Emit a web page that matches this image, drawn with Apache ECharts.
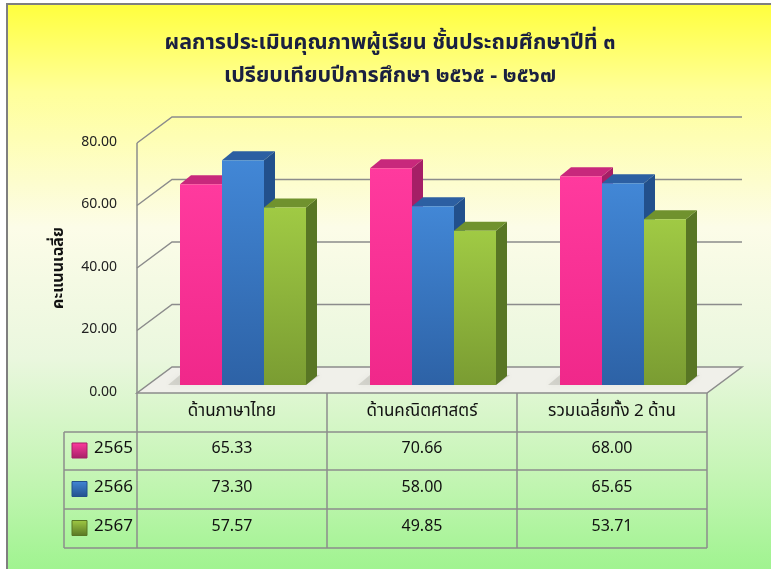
<!DOCTYPE html>
<html>
<head>
<meta charset="utf-8">
<script src="https://cdn.jsdelivr.net/npm/echarts@6/dist/echarts.min.js"></script>
<style>
html, body { margin: 0; padding: 0; background: #fff; }
#main { width: 771px; height: 569px; }
</style>
</head>
<body>
<div id="main"></div>
<script>
// ข้อมูล
var categories = ['ด้านภาษาไทย', 'ด้านคณิตศาสตร์', 'รวมเฉลี่ยทั้ง 2 ด้าน'];
var years = ['2565', '2566', '2567'];
var s2565 = [65.33, 70.66, 68.00];
var s2566 = [73.30, 58.00, 65.65];
var s2567 = [57.57, 49.85, 53.71];
var yTicks = [0, 20, 40, 60, 80];
var titleLines = ['ผลการประเมินคุณภาพผู้เรียน ชั้นประถมศึกษาปีที่ ๓', 'เปรียบเทียบปีการศึกษา ๒๕๖๕ - ๒๕๖๗'];
var yName = 'คะแนนเฉลี่ย';

var FONT = 'Tahoma, "Noto Sans Thai", "Noto Sans", "DejaVu Sans", sans-serif';
var seriesData = [s2565, s2566, s2567];
var colors = [
    {front: ['#FF3A9E', '#F0288A'], top: '#C8287C', side: '#A51F66'},
    {front: ['#4287D6', '#2D62A6'], top: '#2C5FA2', side: '#22508C'},
    {front: ['#A0CA44', '#7A9C32'], top: '#70922E', side: '#587624'}
];

// 3D กรอบ
var WDX = 35, WDY = -26;   // ความลึกของผนัง
var BDX = 11, BDY = -9;    // ความลึกของแท่ง
var BW = 42;

function renderGrid(params, api) {
    var cs = params.coordSys;
    var y = api.coord([0, api.value(0)])[1];
    var x0 = cs.x, x1 = cs.x + cs.width;
    var children = [];
    if (api.value(0) === 0) {
        children.push({
            type: 'polygon',
            shape: {points: [[x0, y], [x1, y], [x1 + WDX, y + WDY], [x0 + WDX, y + WDY]]},
            style: {fill: '#F0F0EA', stroke: '#8C8C8C', lineWidth: 1.5}
        });
        var yTop = api.coord([0, 80])[1];
        children.push({
            type: 'line',
            shape: {x1: x0, y1: yTop, x2: x0, y2: y},
            style: {stroke: '#8C8C8C', lineWidth: 1.5}
        });
    } else {
        children.push({
            type: 'polyline',
            shape: {points: [[x0, y], [x0 + WDX, y + WDY], [x1 + WDX, y + WDY]]},
            style: {stroke: '#8C8C8C', lineWidth: 1.5, fill: null}
        });
    }
    return {type: 'group', children: children};
}

function makeBarRenderer(idx) {
    var c = colors[idx];
    var off = (idx - 1.5) * BW;
    return function (params, api) {
        var p = api.coord([api.value(0), api.value(1)]);
        var b = api.coord([api.value(0), 0]);
        var x = p[0] + off, y = p[1], yb = b[1] + 4;
        var kids = [];
        if (idx === 0) {
            // เงาบนพื้น
            kids.push({
                type: 'polygon',
                shape: {points: [[x - 12, yb], [x + BW * 3, yb], [x + BW * 3 + 14, yb - 10], [x, yb - 10]]},
                style: {fill: 'rgba(120,120,110,0.22)', shadowBlur: 6, shadowColor: 'rgba(120,120,110,0.4)'}
            });
        }
        kids.push(
            {
                type: 'polygon',
                shape: {points: [[x + BW, y], [x + BW + BDX, y + BDY], [x + BW + BDX, yb + BDY], [x + BW, yb]]},
                style: {fill: c.side}
            },
            {
                type: 'polygon',
                shape: {points: [[x, y], [x + BDX, y + BDY], [x + BW + BDX, y + BDY], [x + BW, y]]},
                style: {fill: c.top}
            },
            {
                type: 'rect',
                shape: {x: x, y: y, width: BW, height: yb - y},
                style: {
                    fill: new echarts.graphic.LinearGradient(0, 0, 0, 1, [
                        {offset: 0, color: c.front[0]}, {offset: 1, color: c.front[1]}
                    ])
                }
            }
        );
        return {type: 'group', children: kids};
    };
}

// ตาราง
var TL = 137, TCW = 190, TKEY = 64;
var rowY = [393, 432, 470, 509, 548];
var graphics = [];
graphics.push({
    type: 'rect', z: -100,
    shape: {x: 7, y: 4, width: 790, height: 590},
    style: {
        fill: new echarts.graphic.LinearGradient(0, 0, 0, 1, [
            {offset: 0, color: '#FFFF3C'},
            {offset: 0.15, color: '#FFFF9A'},
            {offset: 0.38, color: '#FCFCE8'},
            {offset: 0.6, color: '#EAF7DE'},
            {offset: 0.8, color: '#C4F5B4'},
            {offset: 1, color: '#96F386'}
        ]),
        stroke: '#7F7F7F', lineWidth: 2
    }
});
titleLines.forEach(function (t, i) {
    graphics.push({
        type: 'text', x: 390, y: 45 + i * 33,
        style: {text: t, font: 'bold 21.5px ' + FONT, fill: '#1A2040', align: 'center', verticalAlign: 'middle'}
    });
});
var lineStyle = {stroke: '#8C8C8C', lineWidth: 1.5};
for (var r = 1; r < rowY.length; r++) {
    graphics.push({type: 'line', shape: {x1: TKEY, y1: rowY[r], x2: TL + TCW * 3, y2: rowY[r]}, style: lineStyle});
}
for (var c = 0; c <= 3; c++) {
    graphics.push({type: 'line', shape: {x1: TL + TCW * c, y1: rowY[0], x2: TL + TCW * c, y2: rowY[4]}, style: lineStyle});
}
graphics.push({type: 'line', shape: {x1: TKEY, y1: rowY[1], x2: TKEY, y2: rowY[4]}, style: lineStyle});
categories.forEach(function (name, i) {
    graphics.push({
        type: 'text', x: TL + TCW * i + TCW / 2, y: (rowY[0] + rowY[1]) / 2,
        style: {text: name, font: '17px ' + FONT, fill: '#111', align: 'center', verticalAlign: 'middle'}
    });
});
years.forEach(function (yr, s) {
    var cy = (rowY[s + 1] + rowY[s + 2]) / 2 - 1;
    graphics.push({
        type: 'rect', shape: {x: 72, y: cy - 7, width: 15, height: 15},
        style: {
            fill: new echarts.graphic.LinearGradient(0, 0, 0, 1, [
                {offset: 0, color: colors[s].front[0]}, {offset: 1, color: colors[s].side}
            ]),
            stroke: colors[s].side, lineWidth: 1
        }
    });
    graphics.push({
        type: 'text', x: 94, y: cy,
        style: {text: yr, font: '17px ' + FONT, fill: '#111', align: 'left', verticalAlign: 'middle'}
    });
    seriesData[s].forEach(function (v, i) {
        graphics.push({
            type: 'text', x: TL + TCW * i + TCW / 2, y: cy,
            style: {text: v.toFixed(2), font: '16px ' + FONT, fill: '#111', align: 'center', verticalAlign: 'middle'}
        });
    });
});

var myChart = echarts.init(document.getElementById('main'));
var option = {
    animation: false,
    graphic: graphics,
    grid: [
        {left: 137, width: 570, top: 143, height: 250},
        {left: 148, width: 570, top: 140, height: 241}
    ],
    xAxis: [
        {gridIndex: 0, type: 'category', data: categories, show: false},
        {gridIndex: 1, type: 'category', data: categories, show: false}
    ],
    yAxis: [
        {
            gridIndex: 0, type: 'value', min: 0, max: 80, interval: 20,
            name: yName, nameLocation: 'middle', nameRotate: 90, nameGap: 69,
            nameTextStyle: {fontFamily: FONT, fontSize: 16, fontWeight: 'bold', color: '#111'},
            axisLine: {show: false}, axisTick: {show: false}, splitLine: {show: false},
            axisLabel: {
                margin: 20, fontFamily: FONT, fontSize: 14, color: '#222',
                formatter: function (v) { return v.toFixed(2); }
            }
        },
        {gridIndex: 1, type: 'value', min: 0, max: 80, show: false}
    ],
    series: [
        {
            type: 'custom', xAxisIndex: 0, yAxisIndex: 0, z: 1,
            data: yTicks.map(function (v) { return [v]; }),
            encode: {y: 0},
            renderItem: renderGrid
        }
    ].concat(years.map(function (yr, s) {
        return {
            name: yr, type: 'custom', xAxisIndex: 1, yAxisIndex: 1, z: 3,
            data: seriesData[s].map(function (v, i) { return [i, v]; }),
            encode: {x: 0, y: 1},
            renderItem: makeBarRenderer(s)
        };
    }))
};
myChart.setOption(option);
</script>
</body>
</html>
